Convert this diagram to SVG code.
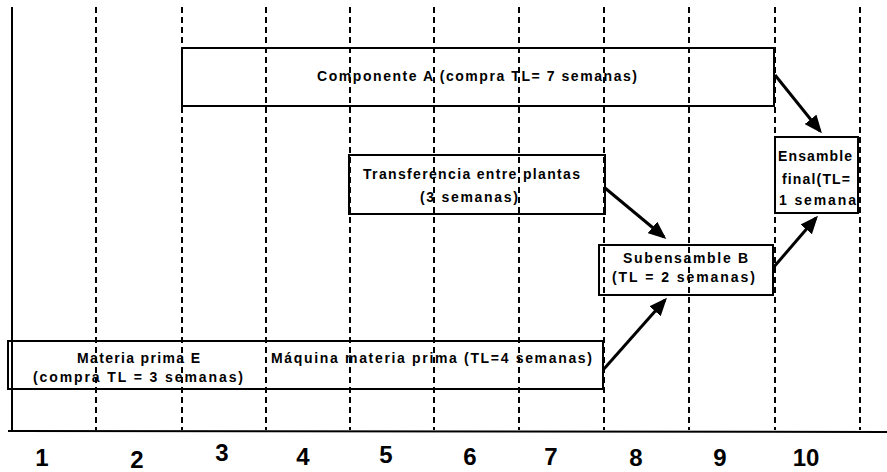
<svg xmlns="http://www.w3.org/2000/svg" width="887" height="472" viewBox="0 0 887 472">
<style>
.grid{stroke:#000;stroke-width:2;stroke-dasharray:6 4;fill:none}
.axis{stroke:#000;stroke-width:2;fill:none}
.box{fill:none;stroke:#000;stroke-width:2}
.lbl{font-family:"Liberation Sans",Arial,sans-serif;font-weight:bold;font-size:14px;fill:#000}
.num{font-family:"Liberation Sans",Arial,sans-serif;font-weight:bold;font-size:24px;fill:#000;text-anchor:middle}
.conn{stroke:#000;stroke-width:3;fill:none;marker-end:url(#ah)}
</style>
<defs>
<marker id="ah" markerWidth="6" markerHeight="5" refX="5" refY="2.5" orient="auto" markerUnits="strokeWidth">
<path d="M0,0 L6,2.5 L0,5 Z" fill="#000"/>
</marker>
</defs>
<rect width="887" height="472" fill="#fff"/>
<g id="grid">
<line class="axis" x1="12" y1="7" x2="12" y2="431"/>
<line class="axis" x1="8" y1="431" x2="887" y2="432"/>
<line class="grid" x1="96" y1="7" x2="96" y2="430"/>
<line class="grid" x1="182" y1="7" x2="182" y2="430"/>
<line class="grid" x1="266" y1="7" x2="266" y2="430"/>
<line class="grid" x1="350" y1="7" x2="350" y2="430"/>
<line class="grid" x1="434" y1="7" x2="434" y2="430"/>
<line class="grid" x1="519" y1="7" x2="519" y2="430"/>
<line class="grid" x1="604" y1="7" x2="604" y2="430"/>
<line class="grid" x1="689" y1="7" x2="689" y2="430"/>
<line class="grid" x1="775" y1="7" x2="775" y2="430"/>
<line class="grid" x1="860" y1="7" x2="860" y2="430"/>
</g>
<g id="axis-labels">
<text class="num" x="42" y="466">1</text>
<text class="num" x="137" y="468">2</text>
<text class="num" x="222" y="461">3</text>
<text class="num" x="303" y="465">4</text>
<text class="num" x="386" y="463">5</text>
<text class="num" x="470" y="465">6</text>
<text class="num" x="551" y="465">7</text>
<text class="num" x="636" y="466">8</text>
<text class="num" x="720" y="466">9</text>
<text class="num" x="806" y="466">10</text>
</g>
<g id="componenteA">
<rect class="box" x="182" y="48" width="592" height="58"/>
<text class="lbl" x="317" y="81" textLength="320" lengthAdjust="spacing">Componente A (compra TL= 7 semanas)</text>
</g>
<g id="transferencia">
<rect class="box" x="349" y="155" width="256" height="59"/>
<text class="lbl" x="363" y="179" textLength="217" lengthAdjust="spacing">Transferencia entre plantas</text>
<text class="lbl" x="420" y="202" textLength="98" lengthAdjust="spacing">(3 semanas)</text>
</g>
<g id="subensambleB">
<rect class="box" x="599" y="245" width="174" height="50"/>
<text class="lbl" x="623" y="263" textLength="125" lengthAdjust="spacing">Subensamble B</text>
<text class="lbl" x="612" y="282" textLength="143" lengthAdjust="spacing">(TL = 2 semanas)</text>
</g>
<g id="ensambleFinal">
<rect class="box" x="775" y="137" width="83" height="76"/>
<text class="lbl" x="778" y="161" textLength="74" lengthAdjust="spacing">Ensamble</text>
<text class="lbl" x="782" y="184" textLength="68" lengthAdjust="spacing">final(TL=</text>
<text class="lbl" x="779" y="205" textLength="77" lengthAdjust="spacing">1 semana</text>
</g>
<g id="materiaPrima">
<rect class="box" x="8" y="341" width="595" height="48"/>
<text class="lbl" x="77" y="363" textLength="123" lengthAdjust="spacing">Materia prima E</text>
<text class="lbl" x="33" y="382" textLength="210" lengthAdjust="spacing">(compra TL = 3 semanas)</text>
<text class="lbl" x="271" y="363" textLength="321" lengthAdjust="spacing">Máquina materia prima (TL=4 semanas)</text>
</g>
<g id="connectors">
<line class="conn" x1="775" y1="75" x2="820" y2="131"/>
<line class="conn" x1="605" y1="188" x2="664" y2="237"/>
<line class="conn" x1="773" y1="268" x2="816" y2="218"/>
<line class="conn" x1="603" y1="370" x2="665" y2="300"/>
</g>
</svg>
